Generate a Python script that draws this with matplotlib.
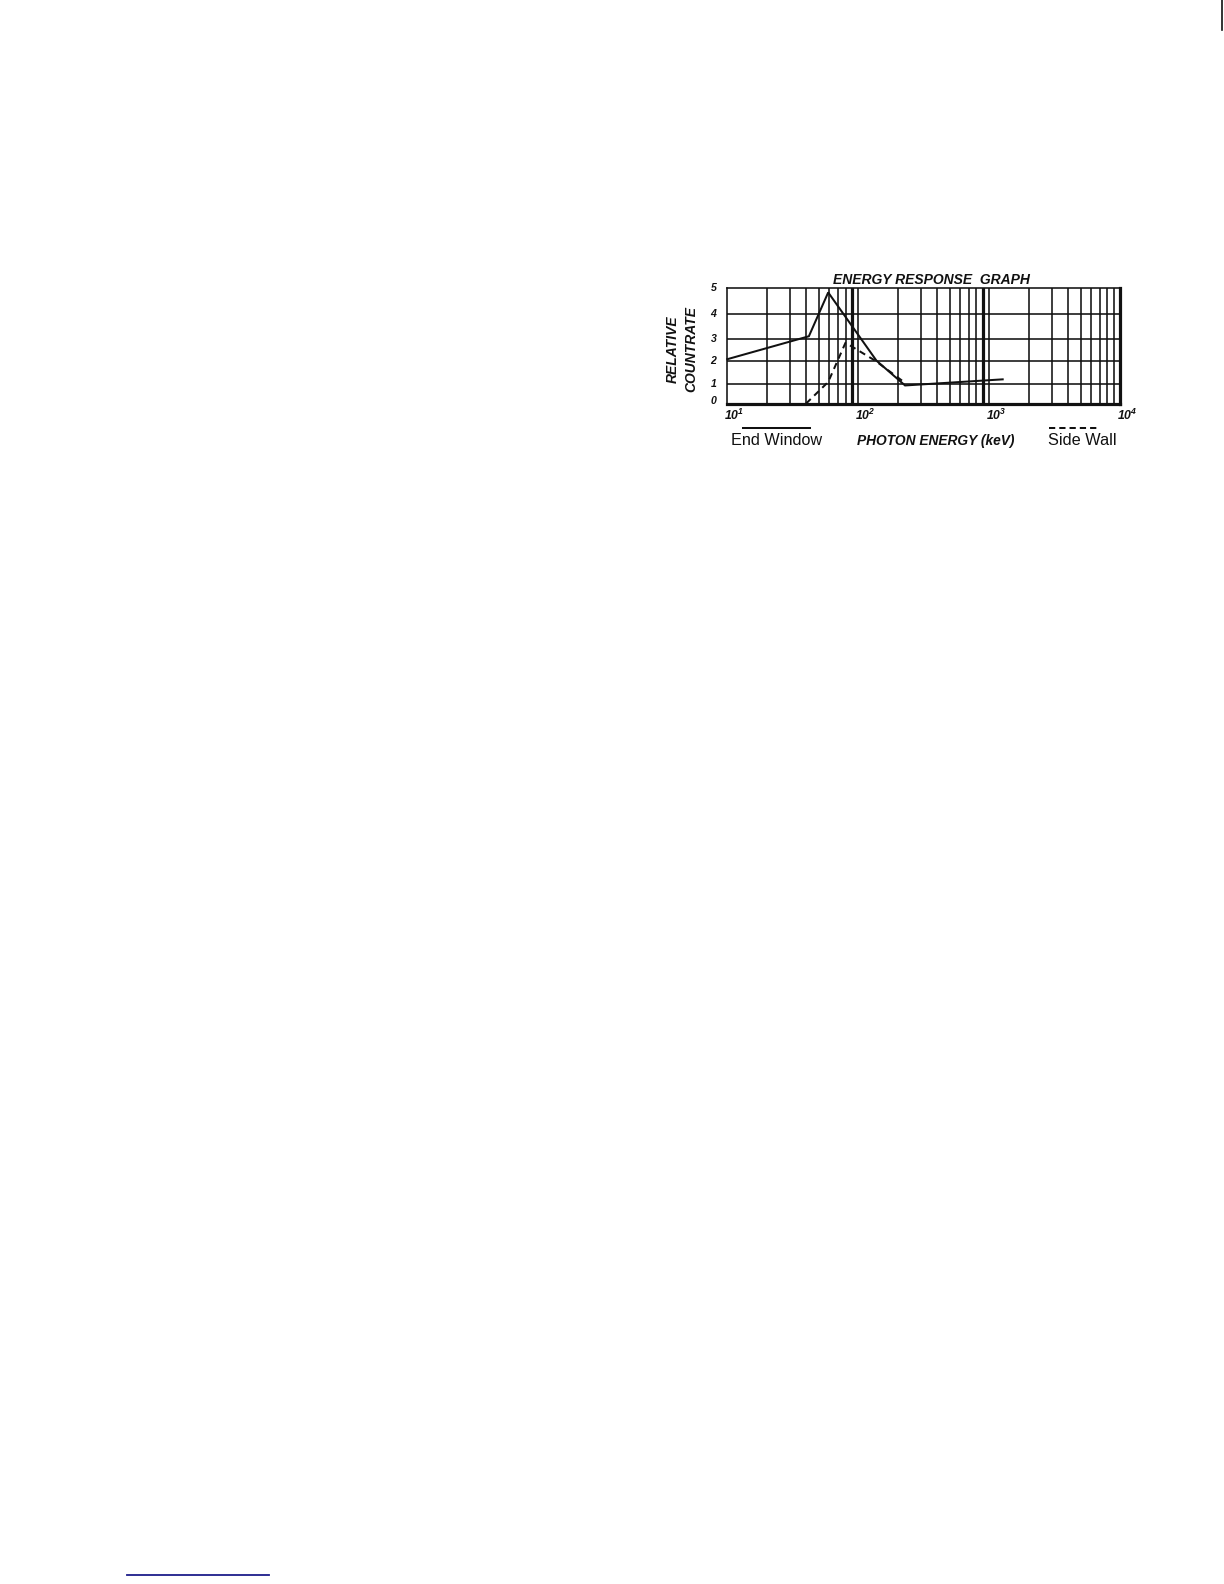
#!/usr/bin/env python3
# -*- coding: utf-8 -*-
import numpy as np
import matplotlib
matplotlib.use("Agg")
import matplotlib.pyplot as plt
from matplotlib.lines import Line2D

# ---- data ----
end_window_kev = [10, 42, 59, 138, 228, 1270]
end_window_rate = [2.07, 3.12, 4.84, 2.0, 0.94, 1.21]

side_wall_kev = [40, 59, 80, 135, 223]
side_wall_rate = [0.0, 1.1, 2.84, 2.0, 1.1]

y_ticks = [0, 1, 2, 3, 4, 5]
x_decades = [1, 2, 3, 4]

title = "ENERGY RESPONSE  GRAPH"
ylabel_lines = ["RELATIVE", "COUNTRATE"]
xlabel = "PHOTON ENERGY (keV)"
legend_solid = "End Window"
legend_dashed = "Side Wall"

# the printed y grid is not evenly spaced, so map it piecewise
Y_GRID_HEIGHT = [0, 19.2, 42.8, 64.2, 89.5, 115.2]

W, H = 1224, 1584
INK = "#111111"
BOLDIT = dict(family="Liberation Sans", weight="bold", style="italic")
PLAIN = dict(family="Liberation Sans")

plt.rcParams["mathtext.fontset"] = "custom"
plt.rcParams["mathtext.rm"] = "Liberation Sans:bold:italic"
plt.rcParams["mathtext.it"] = "Liberation Sans:bold:italic"
plt.rcParams["mathtext.bf"] = "Liberation Sans:bold:italic"


def fx(px):
    return px / W


def fy(py):
    return 1 - py / H


_fr = np.array(Y_GRID_HEIGHT) / Y_GRID_HEIGHT[-1] * 5


def y_fwd(v):
    return np.interp(v, y_ticks, _fr)


def y_inv(p):
    return np.interp(p, _fr, y_ticks)


fig = plt.figure(figsize=(W / 100, H / 100), dpi=100)
fig.patch.set_facecolor("white")

left, right, top, bottom = 727.3, 1120.0, 288.3, 403.5
ax = fig.add_axes([fx(left), fy(bottom), fx(right - left), (bottom - top) / H])
ax.set_xscale("log")
ax.set_yscale("function", functions=(y_fwd, y_inv))
ax.set_xlim(10, 1e4)
ax.set_ylim(0, 5)
ax.set_xticks([])
ax.set_yticks([])
ax.minorticks_off()
ax.tick_params(which="both", length=0, labelbottom=False, labelleft=False)

thin = 1.15
thick = 2.3

# vertical log grid: thin at 2..8, heavy at 9 of each decade, thin at decades
for d in range(1, 4):
    base = 10 ** d
    for m in range(2, 10):
        lw = thick if m == 9 and d < 3 else thin
        ax.axvline(m * base, color=INK, lw=lw, zorder=1)
    if d < 3:
        ax.axvline(10 * base, color=INK, lw=thin, zorder=1)
for v in y_ticks[1:-1]:
    ax.axhline(v, color=INK, lw=thin, zorder=1)

for side, lw in [("left", thin), ("top", thin), ("bottom", thick), ("right", thick)]:
    ax.spines[side].set_linewidth(lw)
    ax.spines[side].set_color(INK)

# curves
ax.plot(end_window_kev, end_window_rate, color=INK, lw=1.45,
        solid_joinstyle="miter", zorder=3, clip_on=False)
ax.plot(side_wall_kev, side_wall_rate, color=INK, lw=1.45,
        linestyle=(0, (3.2, 2.4)), zorder=3, clip_on=False)

# y tick labels
for v in y_ticks:
    dy = 3 if v == 0 else 0
    ax.annotate(str(v), xy=(0, v), xycoords=("axes fraction", "data"),
                xytext=(-11, dy), textcoords="offset pixels",
                ha="right", va="center", fontsize=7.6, color=INK, **BOLDIT)

# x tick labels (10^n)
for d in x_decades:
    ax.annotate(r"$10^{%d}$" % d, xy=(10 ** d, 0),
                xycoords=("data", "axes fraction"),
                xytext=(-3, -17), textcoords="offset pixels",
                ha="left", va="baseline", fontsize=8.8, color=INK)

# title and axis labels
fig.text(fx(931), fy(284), title, ha="center", va="baseline",
         fontsize=10, color=INK, **BOLDIT)
fig.text(fx(672.5), fy(349), ylabel_lines[0], rotation=90, ha="center",
         va="center", fontsize=10, color=INK, **BOLDIT)
fig.text(fx(691), fy(348.5), ylabel_lines[1], rotation=90, ha="center",
         va="center", fontsize=10, color=INK, **BOLDIT)
fig.text(fx(856.7), fy(445), xlabel, ha="left", va="baseline",
         fontsize=9.9, color=INK, **BOLDIT)

# legend: line drawn above its caption
fig.text(fx(730.7), fy(445), legend_solid, ha="left", va="baseline",
         fontsize=11.7, color=INK, **PLAIN)
fig.add_artist(Line2D([fx(742.7), fx(810)], [fy(428.5), fy(428.5)],
                      color=INK, lw=1.45, transform=fig.transFigure))
fig.text(fx(1047.7), fy(445), legend_dashed, ha="left", va="baseline",
         fontsize=11.7, color=INK, **PLAIN)
fig.add_artist(Line2D([fx(1049), fx(1098)], [fy(428.5), fy(428.5)],
                      color=INK, lw=1.45, linestyle=(0, (3.1, 2.0)),
                      transform=fig.transFigure))

# page leftovers: link underline at the foot, edge mark at top right
fig.add_artist(Line2D([fx(127), fx(268.7)], [fy(1574.7), fy(1574.7)],
                      color="#1c1c8a", lw=1.3, transform=fig.transFigure))
fig.add_artist(Line2D([fx(1222), fx(1222)], [fy(0), fy(30)],
                      color=INK, lw=1.2, transform=fig.transFigure))

fig.savefig("out.png", dpi=100, facecolor="white")
